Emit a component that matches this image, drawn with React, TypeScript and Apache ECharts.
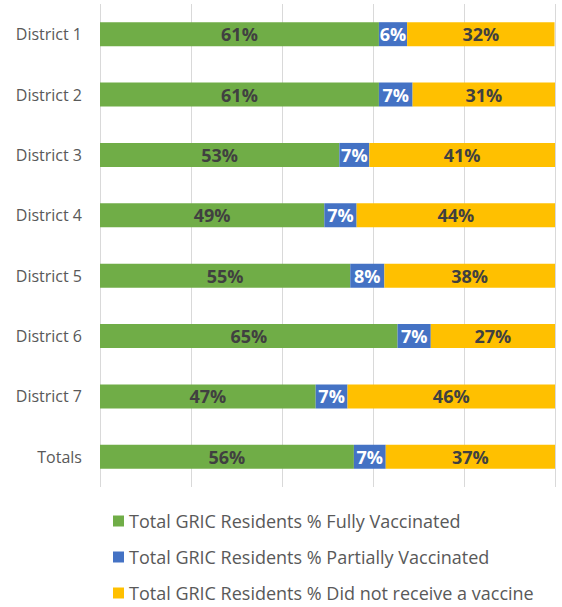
import React, { useEffect, useRef } from "react";
import * as echarts from "echarts";

const categories = ["District 1", "District 2", "District 3", "District 4", "District 5", "District 6", "District 7", "Totals"];
const fullyVaccinated = [61.3, 61.3, 52.6, 49.3, 55.0, 65.4, 47.4, 55.8];
const partiallyVaccinated = [6.2, 7.4, 6.6, 7.1, 7.5, 7.3, 7.0, 7.0];
const notVaccinated = [32.4, 31.3, 40.8, 43.6, 37.5, 27.3, 45.6, 37.2];
const seriesNames = [
  "Total GRIC Residents % Fully Vaccinated",
  "Total GRIC Residents % Partially Vaccinated",
  "Total GRIC Residents % Did not receive a vaccine",
];
const colors = ["#70AD47", "#4472C4", "#FFC000"];
const labelColors = ["#404040", "#FFFFFF", "#404040"];

export default function App() {
  const ref = useRef<HTMLDivElement>(null);
  useEffect(() => {
    if (!ref.current) return;
    const chart = echarts.init(ref.current, null, { renderer: "svg" });
    const data = [fullyVaccinated, partiallyVaccinated, notVaccinated];
    chart.setOption({
      animation: false,
      backgroundColor: "#ffffff",
      color: colors,
      grid: { left: 100, right: 7, top: 4, bottom: 120, containLabel: false },
      xAxis: {
        type: "value",
        min: 0,
        max: 100,
        interval: 20,
        axisLabel: { show: false },
        axisLine: { show: false },
        axisTick: { show: false },
        splitLine: { show: true, lineStyle: { color: "#D9D9D9", width: 1 } },
      },
      yAxis: {
        type: "category",
        data: categories,
        inverse: true,
        axisLine: { show: false },
        axisTick: { show: false },
        axisLabel: {
          color: "#595959",
          fontSize: 16,
          fontFamily: "Open Sans",
          margin: 18,
        },
      },
      legend: {
        orient: "vertical",
        left: 113,
        top: 509,
        padding: 0,
        itemGap: 12,
        itemWidth: 11,
        itemHeight: 11,
        icon: "rect",
        textStyle: { color: "#595959", fontSize: 18, fontFamily: "Open Sans", lineHeight: 24 },
        data: seriesNames,
      },
      series: seriesNames.map((name, i) => ({
        name,
        type: "bar",
        stack: "total",
        barWidth: 24,
        data: data[i],
        itemStyle: { color: colors[i] },
        label: {
          show: true,
          position: "inside",
          formatter: (p: any) => Math.round(p.value) + "%",
          color: labelColors[i],
          fontSize: 18,
          fontWeight: "bold",
          fontFamily: "Open Sans",
        },
      })),
    });
    return () => chart.dispose();
  }, []);
  return (
    <div
      ref={ref}
      style={{ position: "fixed", left: 0, top: 0, width: 562, height: 607, background: "#fff" }}
    />
  );
}
